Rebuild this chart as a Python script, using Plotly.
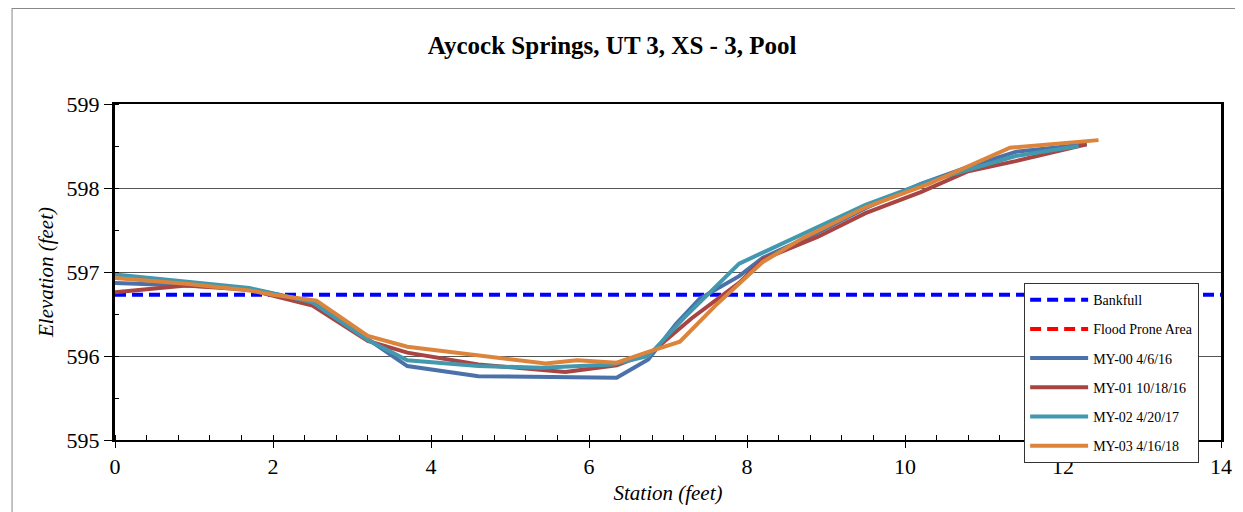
import plotly.graph_objects as go

title = "Aycock Springs, UT 3, XS - 3, Pool"

bankfull_x = [0, 14]
bankfull_y = [596.73, 596.73]

flood_x = [0, 14]
flood_y = [None, None]

my00_x = [0, 0.9, 1.7, 2.5, 3.2, 3.7, 4.6, 5.5, 6.35, 6.75, 7.1, 7.4, 7.9, 8.2, 8.9, 9.5, 10.2, 10.8, 11.4, 12.3]
my00_y = [596.87, 596.84, 596.80, 596.64, 596.20, 595.88, 595.76, 595.75, 595.74, 595.96, 596.38, 596.68, 596.95, 597.17, 597.47, 597.76, 598.05, 598.25, 598.43, 598.52]

my01_x = [0, 0.9, 1.7, 2.5, 3.2, 3.7, 4.6, 5.7, 6.35, 6.8, 7.3, 7.9, 8.2, 8.9, 9.5, 10.2, 10.8, 11.4, 12.3]
my01_y = [596.76, 596.84, 596.79, 596.60, 596.18, 596.04, 595.90, 595.81, 595.89, 596.05, 596.45, 596.87, 597.15, 597.42, 597.70, 597.95, 598.20, 598.32, 598.52]

my02_x = [0, 0.9, 1.7, 2.5, 3.2, 3.7, 4.6, 5.4, 6.3, 6.75, 7.2, 7.9, 8.7, 9.5, 10.3, 11.4, 12.2]
my02_y = [596.97, 596.89, 596.81, 596.64, 596.19, 595.95, 595.88, 595.86, 595.90, 596.00, 596.45, 597.10, 597.45, 597.80, 598.08, 598.38, 598.50]

my03_x = [0, 0.9, 1.7, 2.0, 2.55, 3.2, 3.7, 4.6, 5.45, 5.85, 6.35, 6.75, 7.15, 7.6, 8.2, 8.7, 9.5, 10.3, 11.33, 12.45]
my03_y = [596.93, 596.86, 596.78, 596.73, 596.66, 596.24, 596.11, 596.01, 595.91, 595.95, 595.92, 596.05, 596.17, 596.60, 597.12, 597.40, 597.77, 598.05, 598.48, 598.57]

series = [
    ("MY-00 4/6/16", my00_x, my00_y, "#4A72A8"),
    ("MY-01 10/18/16", my01_x, my01_y, "#A84442"),
    ("MY-02 4/20/17", my02_x, my02_y, "#4298AE"),
    ("MY-03 4/16/18", my03_x, my03_y, "#DC843C"),
]

serif = "Liberation Serif"

fig = go.Figure()
fig.add_trace(go.Scatter(x=bankfull_x, y=bankfull_y, mode="lines", name="Bankfull",
                         legendgroup="g0", showlegend=True,
                         line=dict(color="#0000FF", width=4, dash="11px,6px")))
fig.add_trace(go.Scatter(x=flood_x, y=flood_y, mode="lines", name="Flood Prone Area",
                         legendgroup="g1", showlegend=True,
                         line=dict(color="#FF0000", width=4, dash="11px,6px")))
for i, (name, xs, ys, col) in enumerate(series):
    fig.add_trace(go.Scatter(x=xs, y=ys, mode="lines", name=name,
                             legendgroup="g%d" % (i + 2), showlegend=True,
                             line=dict(color=col, width=4)))

fig.update_layout(
    width=1243, height=512,
    margin=dict(l=107, r=30, t=96, b=80),
    paper_bgcolor="white", plot_bgcolor="white",
    font=dict(family=serif, color="black", size=22),
    title=dict(text="<b>" + title + "</b>", x=0.486, xanchor="center", y=0.928, yanchor="middle",
               font=dict(family=serif, size=25, color="black")),
    showlegend=True,
    legend=dict(x=0.822, y=0.467, xanchor="left", yanchor="top",
                bgcolor="white", bordercolor="#333333", borderwidth=1,
                font=dict(family=serif, size=14, color="black"),
                tracegroupgap=8, itemwidth=58),
    xaxis=dict(range=[0, 14], dtick=2, showgrid=False, zeroline=False,
               showline=True, linecolor="black", linewidth=2, mirror=True,
               ticks="outside", ticklen=6, tickcolor="black",
               tickfont=dict(size=22),
               minor=dict(dtick=0.4, ticks="inside", ticklen=5, tickcolor="black", showgrid=False),
               title=dict(text="<i>Station (feet)</i>", font=dict(size=21), standoff=7)),
    yaxis=dict(range=[595, 599], dtick=1, showgrid=True, gridcolor="#555555", gridwidth=1,
               zeroline=False, showline=True, linecolor="black", linewidth=3, mirror=True,
               ticks="outside", ticklen=8, tickcolor="black",
               tickfont=dict(size=22),
               minor=dict(dtick=0.5, ticks="inside", ticklen=4, tickcolor="black", showgrid=False),
               title=dict(text="<i>Elevation (feet)</i>", font=dict(size=21), standoff=8)),
    shapes=[
        dict(type="line", xref="paper", yref="paper", x0=-0.0931, x1=-0.0931, y0=-0.25, y1=1.286,
             line=dict(color="#888888", width=1)),
        dict(type="line", xref="paper", yref="paper", x0=-0.0931, x1=1.03, y0=1.286, y1=1.286,
             line=dict(color="#888888", width=2)),
    ],
)

fig.write_html("out.html")
